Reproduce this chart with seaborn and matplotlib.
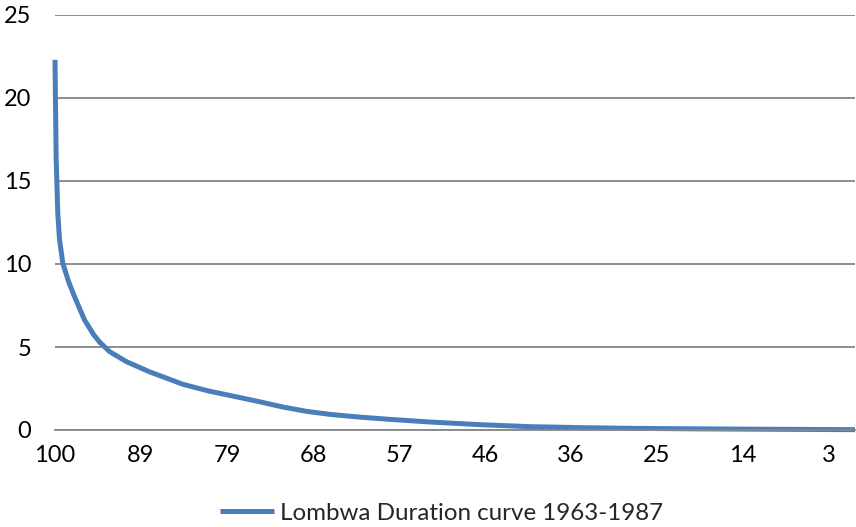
import numpy as np
import pandas as pd
import matplotlib
matplotlib.use("Agg")
import matplotlib.pyplot as plt
import seaborn as sns

# Percentage of time flow is exceeded (category position) and flow value
exceedance = [100.0, 99.86, 99.77, 99.65, 99.44, 99.02, 98.31, 97.56, 96.31, 95.18,
              94.43, 93.17, 91.08, 88.16, 83.99, 80.8, 77.73, 74.6, 71.47, 68.5,
              65.62, 62.0, 58.11, 53.09, 46.83, 40.57, 34.0, 28.04, 20.0, 13.01, 0.0]
flow = [22.3, 16.5, 15.0, 13.05, 11.5, 10.04, 8.95, 8.03, 6.63, 5.75,
        5.3, 4.72, 4.12, 3.5, 2.75, 2.35, 2.04, 1.72, 1.38, 1.12,
        0.94, 0.78, 0.64, 0.48, 0.32, 0.2, 0.14, 0.1, 0.07, 0.05, 0.02]
tick_labels = ["100", "89", "79", "68", "57", "46", "36", "25", "14", "3"]
series_name = "Lombwa Duration curve 1963-1987"

df = pd.DataFrame({"exceedance": exceedance, "flow": flow})

sns.set_theme(style="white")
plt.rcParams["font.family"] = ["Lato", "DejaVu Sans"]

fig = plt.figure(figsize=(8.56, 5.27), dpi=100)
ax = fig.add_axes([55 / 856, 1 - 430 / 527, 800 / 856, 415 / 527])

sns.lineplot(data=df, x="exceedance", y="flow", ax=ax, color="#4A7EBB",
             linewidth=3.6, sort=False, estimator=None, legend=False)
for ln in ax.get_lines():
    ln.set_clip_on(False)
    ln.set_solid_capstyle("butt")
    ln.set_solid_joinstyle("round")

ax.set_xlim(100, 0)
ax.set_ylim(0, 25)
ax.set_yticks(np.arange(0, 26, 5))
ax.set_yticklabels([str(v) for v in range(0, 26, 5)])
ax.set_xticks([100 - 10.75 * i for i in range(len(tick_labels))])
ax.set_xticklabels(tick_labels)
ax.set_xlabel("")
ax.set_ylabel("")

ax.grid(axis="y", color="#868686", linewidth=1.3)
ax.grid(axis="x", visible=False)
ax.set_axisbelow(True)
for s in ["top", "right", "left"]:
    ax.spines[s].set_visible(False)
ax.spines["bottom"].set_color("#868686")
ax.spines["bottom"].set_linewidth(1.3)

ax.tick_params(axis="y", length=0, pad=17, labelsize=17, colors="black")
ax.tick_params(axis="x", length=0, pad=11, labelsize=17, colors="black")

handle = plt.Line2D([], [], color="#4A7EBB", linewidth=3.6, solid_capstyle="butt")
fig.legend([handle], [series_name], loc="center", bbox_to_anchor=(0.516, 0.026),
           frameon=False, fontsize=17.4, handlelength=2.25, handletextpad=0.25)

fig.savefig("out.png", dpi=100)
